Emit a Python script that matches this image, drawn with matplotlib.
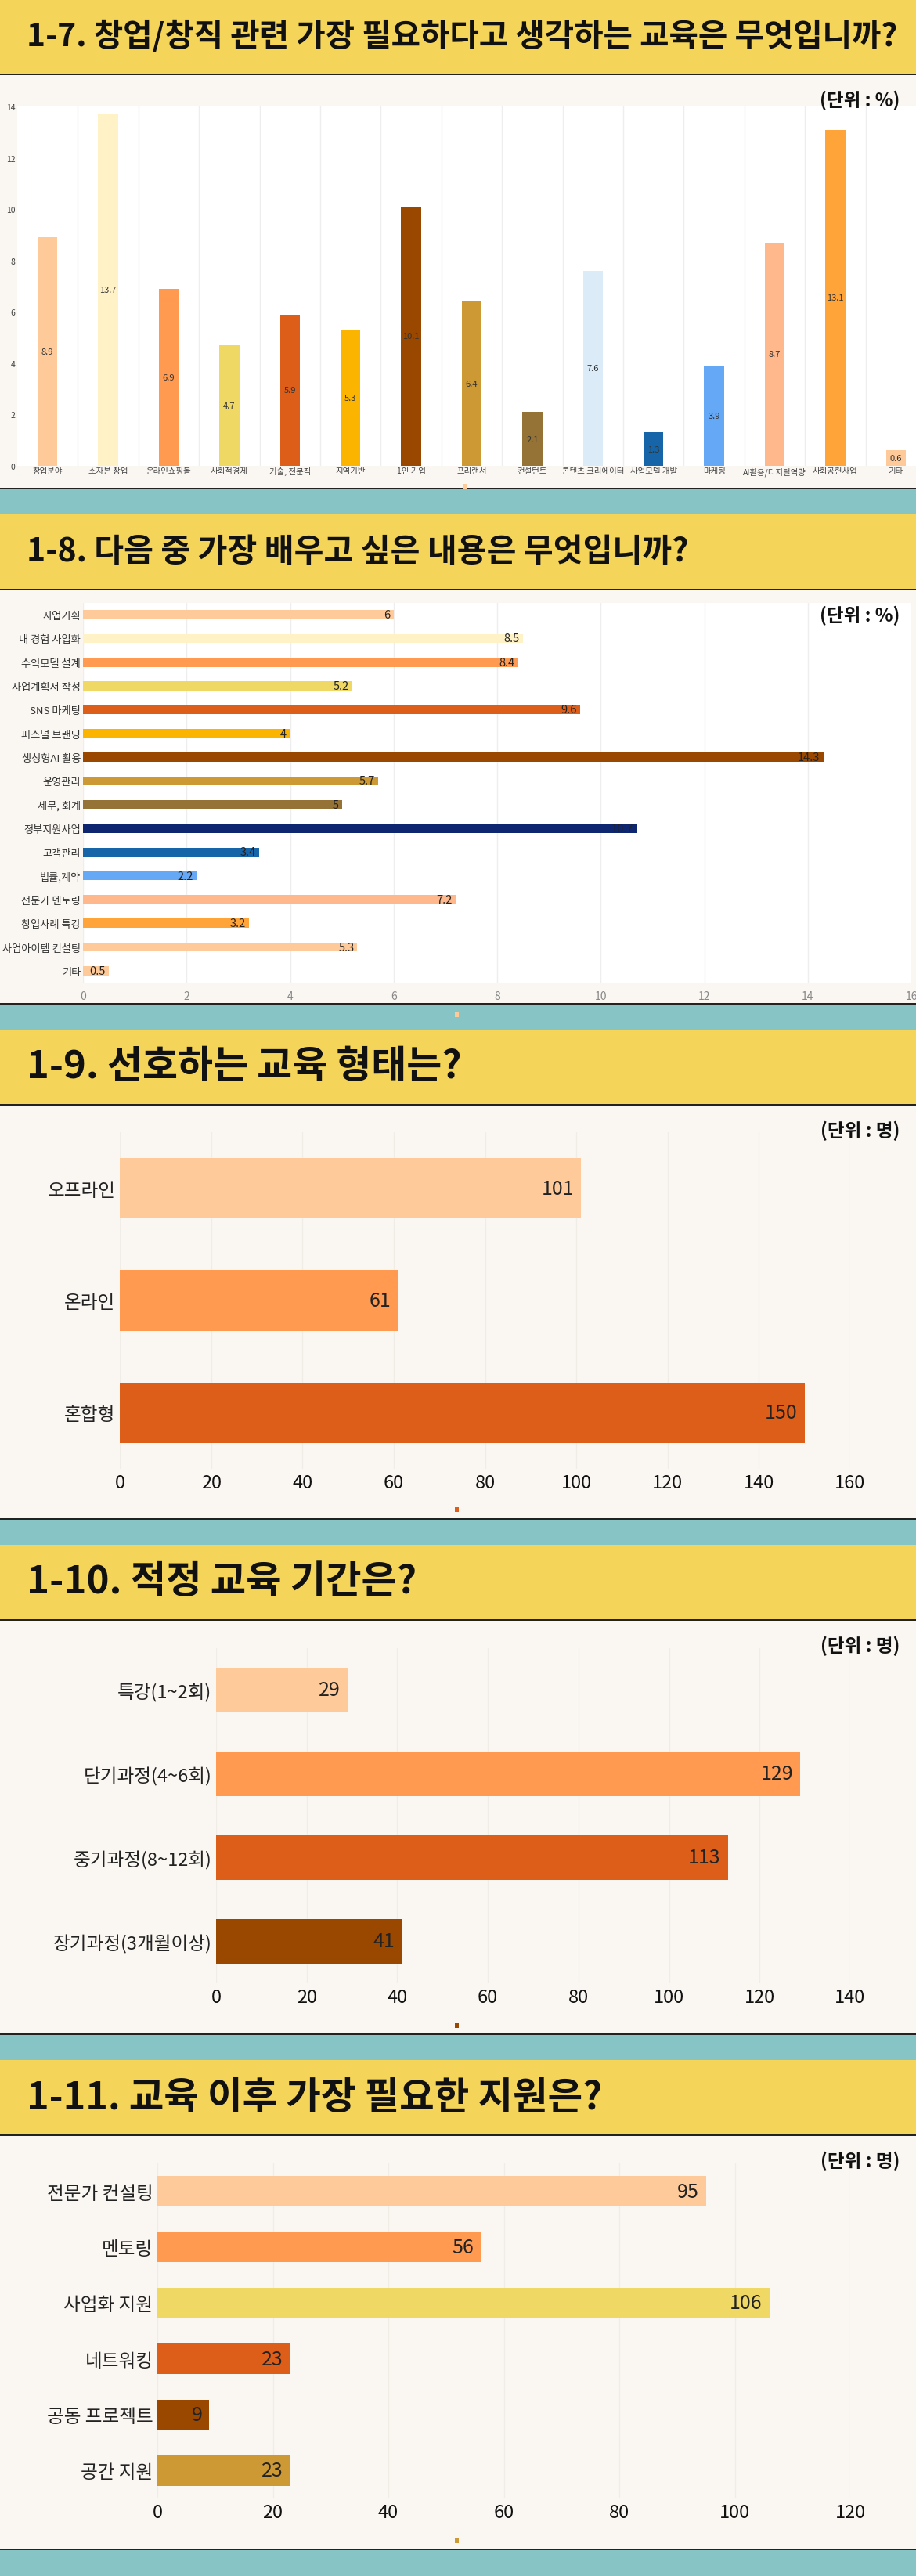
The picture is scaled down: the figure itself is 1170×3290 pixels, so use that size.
import matplotlib
matplotlib.use("Agg")
import matplotlib.pyplot as plt
from matplotlib.patches import Rectangle

# ---- data ----
c7_labels = ["창업분야", "소자본 창업", "온라인쇼핑몰", "사회적경제", "기술, 전문직", "지역기반", "1인 기업",
             "프리랜서", "컨설턴트", "콘텐츠 크리에이터", "사업모델 개발", "마케팅", "AI활용/디지털역량",
             "사회공헌사업", "기타"]
c7_values = [8.9, 13.7, 6.9, 4.7, 5.9, 5.3, 10.1, 6.4, 2.1, 7.6, 1.3, 3.9, 8.7, 13.1, 0.6]

c8_labels = ["사업기획", "내 경험 사업화", "수익모델 설계", "사업계획서 작성", "SNS 마케팅", "퍼스널 브랜딩",
             "생성형AI 활용", "운영관리", "세무, 회계", "정부지원사업", "고객관리", "법률,계약",
             "전문가 멘토링", "창업사례 특강", "사업아이템 컨설팅", "기타"]
c8_values = [6, 8.5, 8.4, 5.2, 9.6, 4, 14.3, 5.7, 5, 10.7, 3.4, 2.2, 7.2, 3.2, 5.3, 0.5]

c9_labels = ["오프라인", "온라인", "혼합형"]
c9_values = [101, 61, 150]

c10_labels = ["특강(1~2회)", "단기과정(4~6회)", "중기과정(8~12회)", "장기과정(3개월이상)"]
c10_values = [29, 129, 113, 41]

c11_labels = ["전문가 컨설팅", "멘토링", "사업화 지원", "네트워킹", "공동 프로젝트", "공간 지원"]
c11_values = [95, 56, 106, 23, 9, 23]

titles = ["1-7. 창업/창직 관련 가장 필요하다고 생각하는 교육은 무엇입니까?",
          "1-8. 다음 중 가장 배우고 싶은 내용은 무엇입니까?",
          "1-9. 선호하는 교육 형태는?",
          "1-10. 적정 교육 기간은?",
          "1-11. 교육 이후 가장 필요한 지원은?"]
title_widths = [1115, 846, 556, 499, 735]
units = ["(단위 : %)", "(단위 : %)", "(단위 : 명)", "(단위 : 명)", "(단위 : 명)"]

# ---- colours ----
CREAM = "#FAF7F2"
YELLOW = "#F4D55A"
TEAL = "#87C4C6"
DARK = "#222222"

c7_colors = ["#FFCA99", "#FFF2C7", "#FF9A50", "#F0D865", "#DD5E18", "#FBB400", "#9A4700", "#CC9935",
             "#957336", "#DCEBF8", "#1565A8", "#65A8F5", "#FFB88C", "#FFA438", "#FFCA99"]
c8_colors = ["#FFCA99", "#FFF2C7", "#FF9A50", "#F0D865", "#DD5E18", "#FBB400", "#9A4700", "#CC9935",
             "#957336", "#0E2570", "#1565A8", "#65A8F5", "#FFB88C", "#FFA438", "#FFCA99", "#FFCA99"]
c9_colors = ["#FFCA99", "#FF9A50", "#DD5E18"]
c10_colors = ["#FFCA99", "#FF9A50", "#DD5E18", "#9A4700"]
c11_colors = ["#FFCA99", "#FF9A50", "#F0D865", "#DD5E18", "#9A4700", "#CC9935"]

W, H = 1170, 3291
SEC = 658

plt.rcParams["font.family"] = ["Noto Sans CJK KR", "DejaVu Sans"]
fig = plt.figure(figsize=(W / 100, H / 100), dpi=100, facecolor=CREAM)


def px_rect(x, y, w, h, color, z=-1):
    fig.add_artist(Rectangle((x / W, 1 - (y + h) / H), w / W, h / H, transform=fig.transFigure,
                             facecolor=color, edgecolor="none", zorder=z))


def px_axes(left, top, right, bottom):
    return fig.add_axes([left / W, 1 - bottom / H, (right - left) / W, (bottom - top) / H])


# background bands
for i in range(5):
    y0 = SEC * i
    if i > 0:
        px_rect(0, y0 - 32, W, 32, TEAL)
    px_rect(0, y0, W, 95, YELLOW)
    px_rect(0, y0 + 95, W, 2, DARK)
    px_rect(0, y0 + 624, W, 2, DARK)
px_rect(0, 3258, W, 33, TEAL)

# titles, fitted to the reference width
renderer = fig.canvas.get_renderer()
for i, t in enumerate(titles):
    txt = fig.text(34 / W, 1 - (SEC * i + 47) / H, t, fontsize=30, fontweight="heavy",
                   ha="left", va="center", color="#111111")
    w = txt.get_window_extent(renderer).width
    txt.set_fontsize(30 * title_widths[i] / w)
    fig.text(1149 / W, 1 - (SEC * i + 128) / H, units[i], fontsize=17, fontweight="bold",
             ha="right", va="center", color="#111111", zorder=5)

# ---- 1-7 vertical bars ----
ax = px_axes(22, 137, 1183, 596)
ax.set_facecolor("white")
x = range(len(c7_values))
ax.bar(x, c7_values, width=0.33, color=c7_colors, zorder=2)
for i, v in enumerate(c7_values):
    ax.text(i, v / 2, f"{v:g}", ha="center", va="center", fontsize=8, color="#333333", zorder=3)
for k in range(len(c7_values)):
    ax.axvline(k + 0.5, color="#EEEEEE", lw=1, zorder=1)
ax.set_xlim(-0.5, 14.5)
ax.set_ylim(0, 14)
ax.set_xticks(list(x), c7_labels, fontsize=7.5, color="#444444")
ax.set_yticks(range(0, 15, 2))
ax.tick_params(axis="y", labelsize=7.5, labelcolor="#444444", pad=2, length=0)
ax.tick_params(axis="x", pad=1, length=0)
for s in ax.spines.values():
    s.set_visible(False)

# ---- 1-8 horizontal bars ----
ax = px_axes(106, 771, 1164, 1256)
ax.set_facecolor("white")
y = range(len(c8_values))
ax.barh(y, c8_values, height=0.38, color=c8_colors, zorder=2)
for i, v in enumerate(c8_values):
    ax.annotate(f"{v:g}", (v, i), xytext=(-3, 0), textcoords="offset points",
                ha="right", va="center", fontsize=10.5, color="#222222", zorder=3)
ax.set_xlim(0, 16)
ax.set_ylim(15.5, -0.5)
ax.set_xticks(range(0, 17, 2))
ax.set_yticks(list(y), c8_labels)
ax.tick_params(axis="y", labelsize=9.5, labelcolor="#333333", pad=2, length=0)
ax.tick_params(axis="x", labelsize=10, labelcolor="#888888", pad=7, length=0)
ax.grid(axis="x", color="#EEEEEE", lw=1)
ax.set_axisbelow(True)
for s in ax.spines.values():
    s.set_visible(False)


# ---- 1-9 .. 1-11 horizontal bars ----
def hbar(ax, labels, values, colors, xmax, step):
    n = len(values)
    ax.set_facecolor(CREAM)
    ax.barh(range(n), values, height=0.54, color=colors, zorder=2)
    for i, v in enumerate(values):
        ax.annotate(str(v), (v, i), xytext=(-6.5, 0), textcoords="offset points",
                    ha="right", va="center", fontsize=18, color="#222222", zorder=3)
    ax.set_xlim(0, xmax)
    ax.set_ylim(n - 0.5, -0.5)
    ax.set_xticks(range(0, xmax + 1, step))
    ax.set_yticks(range(n), labels)
    ax.tick_params(axis="y", labelsize=17, labelcolor="#222222", pad=4, length=0)
    ax.tick_params(axis="x", labelsize=17, labelcolor="#111111", pad=4, length=0)
    ax.grid(axis="x", color="#F0ECE6", lw=1)
    ax.set_axisbelow(True)
    for s in ax.spines.values():
        s.set_visible(False)


hbar(px_axes(153, 1447, 1086, 1877), c9_labels, c9_values, c9_colors, 160, 20)
hbar(px_axes(276, 2106, 1086, 2534), c10_labels, c10_values, c10_colors, 140, 20)
hbar(px_axes(201, 2764, 1086, 3192), c11_labels, c11_values, c11_colors, 120, 20)

# tiny legend marks near the bottom of each panel
marks = [(592, 619, "#FFCA99"), (581, 1294, "#FFCA99"), (581, 1926, "#DD5E18"),
         (581, 2585, "#9A4700"), (581, 3243, "#CC9935")]
for mx, my, mc in marks:
    px_rect(mx, my, 5, 6, mc, z=5)

fig.savefig("out.png", dpi=100, facecolor=CREAM)
